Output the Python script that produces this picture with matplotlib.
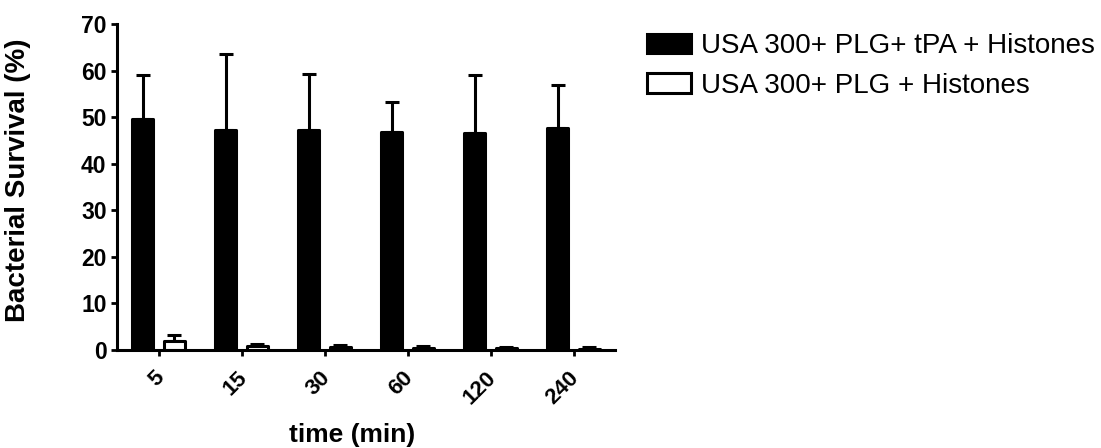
import numpy as np
import matplotlib.transforms as mtransforms
from matplotlib import pyplot as plt

plt.rcParams['font.family'] = ['Liberation Sans', 'DejaVu Sans']

# data
times = ['5', '15', '30', '60', '120', '240']
tpa_mean = [49.5, 47.3, 47.3, 46.8, 46.6, 47.6]
tpa_top = [59.0, 63.5, 59.3, 53.3, 59.0, 57.0]
plg_mean = [2.0, 0.8, 0.6, 0.4, 0.35, 0.3]
plg_top = [3.3, 1.3, 1.1, 0.8, 0.7, 0.6]

tpa_label = 'USA 300+ PLG+ tPA + Histones'
plg_label = 'USA 300+ PLG + Histones'

x = np.arange(len(times))
w = 0.25
off = 0.19
lw = 2.2

fig = plt.figure(figsize=(11.01, 4.48), dpi=100)
ax = fig.add_axes([117 / 1101, 98 / 448, 498 / 1101, 326 / 448])

tpa_err = np.array(tpa_top) - np.array(tpa_mean)
plg_err = np.array(plg_top) - np.array(plg_mean)

ax.errorbar(x - off, tpa_mean, yerr=[np.zeros(len(x)), tpa_err], fmt='none',
            ecolor='black', elinewidth=lw, capsize=5, capthick=lw, zorder=1)
ax.errorbar(x + off, plg_mean, yerr=[np.zeros(len(x)), plg_err], fmt='none',
            ecolor='black', elinewidth=lw, capsize=5, capthick=lw, zorder=1)
b1 = ax.bar(x - off, tpa_mean, width=w, color='black', edgecolor='black',
            linewidth=lw, joinstyle='round', label=tpa_label, zorder=2)
b2 = ax.bar(x + off, plg_mean, width=w, color='white', edgecolor='black',
            linewidth=lw, joinstyle='round', label=plg_label, zorder=2)

ax.set_xlim(-0.5, 5.5)
ax.set_ylim(0, 70)
ax.set_yticks(np.arange(0, 71, 10))
ax.set_xticks(x)

for s in ['top', 'right']:
    ax.spines[s].set_visible(False)
for s in ['left', 'bottom']:
    ax.spines[s].set_linewidth(2.2)
ax.tick_params(axis='both', direction='out', length=4.5, width=2)
ax.tick_params(axis='y', pad=3)
ax.tick_params(axis='x', pad=8)

ax.set_xticklabels(times, rotation=45, ha='right', fontsize=16, fontweight='bold')
# nudge rotated labels so they sit under their ticks like the original
shift = mtransforms.ScaledTranslation(7 / 72, 0, fig.dpi_scale_trans)
for t in ax.get_xticklabels():
    t.set_transform(t.get_transform() + shift)
for t in ax.get_yticklabels():
    t.set_fontsize(16.5)
    t.set_fontweight('bold')

ax.set_ylabel('Bacterial Survival (%)', fontsize=20, fontweight='bold')
ax.yaxis.set_label_coords(-0.173, 0.52)
ax.set_xlabel('time (min)', fontsize=19, fontweight='bold')
ax.xaxis.set_label_coords(0.472, -0.224)

fig.legend(handles=[b1, b2], loc='upper left', bbox_to_anchor=(647 / 1101, 1 - 33 / 448),
           frameon=False, fontsize=20, handlelength=1.6, handleheight=0.7,
           handletextpad=0.35, labelspacing=0.5, borderpad=0, borderaxespad=0)

fig.savefig('out.png', dpi=100)
